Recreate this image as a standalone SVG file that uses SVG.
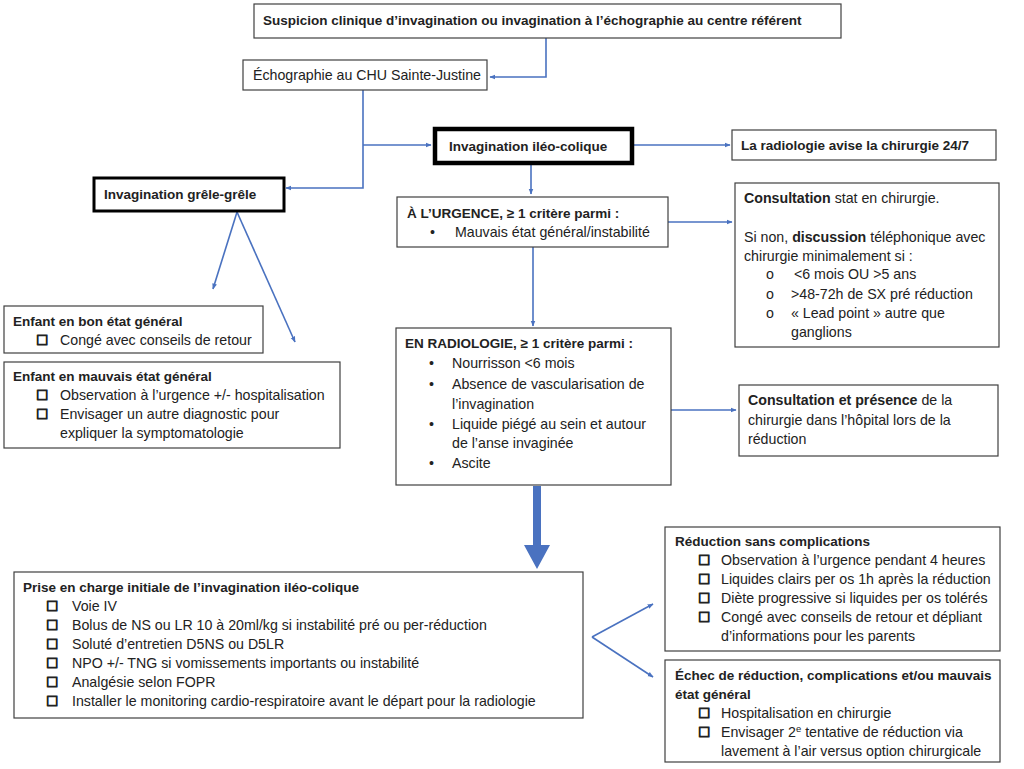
<svg xmlns="http://www.w3.org/2000/svg" width="1024" height="769" viewBox="0 0 1024 769">
<defs>
<style>
.bx{fill:#fff;stroke:#404040;stroke-width:1.2}
.bk{fill:#fff;stroke:#000;stroke-width:3}
.bk2{fill:#fff;stroke:#000;stroke-width:4.5}
text{font-family:"Liberation Sans",Arial,sans-serif;font-size:14.2px;fill:#222}
.b{font-weight:bold}
.t{font-weight:bold;font-size:13.5px}
.cb{font-family:"DejaVu Sans",sans-serif;font-size:14px;font-weight:bold;stroke:#222;stroke-width:0.9}
.ln{fill:none;stroke:#4a72c0;stroke-width:1.6}
</style>
<marker id="ah" viewBox="0 0 10 10" refX="9" refY="5" markerWidth="6" markerHeight="6" orient="auto" markerUnits="userSpaceOnUse">
<path d="M0,1 L10,5 L0,9 Z" fill="#4a72c0"/>
</marker>
</defs>
<rect width="1024" height="769" fill="#fff"/>

<g id="connectors">
<polyline class="ln" points="546,38 546,77 490,77" marker-end="url(#ah)"/>
<polyline class="ln" points="363,90 363,188 286,188" marker-end="url(#ah)"/>
<polyline class="ln" points="363,145 431,145" marker-end="url(#ah)"/>
<line class="ln" x1="632" y1="145" x2="730" y2="145" marker-end="url(#ah)"/>
<line class="ln" x1="531" y1="163" x2="531" y2="194" marker-end="url(#ah)"/>
<line class="ln" x1="237" y1="212" x2="213" y2="289" marker-end="url(#ah)"/>
<line class="ln" x1="237" y1="212" x2="295" y2="342" marker-end="url(#ah)"/>
<line class="ln" x1="668" y1="222" x2="732" y2="222" marker-end="url(#ah)"/>
<line class="ln" x1="533" y1="247" x2="533" y2="326" marker-end="url(#ah)"/>
<line class="ln" x1="671" y1="410" x2="736" y2="410" marker-end="url(#ah)"/>
<polygon points="533,486 541,486 541,545 550,545 537,569 524,545 533,545" fill="#4a72c0"/>
<line class="ln" x1="592" y1="637" x2="653" y2="604" marker-end="url(#ah)"/>
<line class="ln" x1="592" y1="637" x2="653" y2="677" marker-end="url(#ah)"/>
</g>

<g id="n-suspicion">
<rect class="bx" x="254" y="4" width="587" height="34"/>
<text class="t" x="263" y="25">Suspicion clinique d’invagination ou invagination à l’échographie au centre référent</text>
</g>

<g id="n-echo">
<rect class="bx" x="243" y="60" width="244" height="30"/>
<text x="253" y="80">Échographie au CHU Sainte-Justine</text>
</g>

<g id="n-ileo">
<rect class="bk2" x="435" y="129" width="197" height="34"/>
<text class="t" x="449" y="151">Invagination iléo-colique</text>
</g>

<g id="n-radio-avise">
<rect class="bx" x="732" y="130" width="264" height="30"/>
<text class="t" x="741" y="150">La radiologie avise la chirurgie 24/7</text>
</g>

<g id="n-grele">
<rect class="bk" x="94" y="178" width="190" height="33"/>
<text class="t" x="104" y="199">Invagination grêle-grêle</text>
</g>

<g id="n-bon">
<rect class="bx" x="4" y="306" width="259" height="47"/>
<text class="t" x="13" y="326">Enfant en bon état général</text>
<text class="cb" x="36" y="345">☐</text>
<text x="60" y="345">Congé avec conseils de retour</text>
</g>

<g id="n-mauvais">
<rect class="bx" x="4" y="362" width="336" height="86"/>
<text class="t" x="13" y="381">Enfant en mauvais état général</text>
<text class="cb" x="36" y="400">☐</text>
<text x="60" y="400">Observation à l’urgence +/- hospitalisation</text>
<text class="cb" x="36" y="419">☐</text>
<text x="60" y="419">Envisager un autre diagnostic pour</text>
<text x="60" y="438">expliquer la symptomatologie</text>
</g>

<g id="n-urgence">
<rect class="bx" x="397" y="197" width="271" height="50"/>
<text class="t" x="407" y="218">À L’URGENCE, ≥ 1 critère parmi :</text>
<text x="430" y="237">•</text>
<text x="455" y="237">Mauvais état général/instabilité</text>
</g>

<g id="n-consult">
<rect class="bx" x="735" y="183" width="264" height="164"/>
<text x="744" y="203"><tspan class="b">Consultation</tspan> stat en chirurgie.</text>
<text x="744" y="242">Si non, <tspan class="b">discussion</tspan> téléphonique avec</text>
<text x="744" y="261">chirurgie minimalement si :</text>
<text x="766" y="279">o</text>
<text x="794" y="279">&lt;6 mois OU &gt;5 ans</text>
<text x="766" y="299">o</text>
<text x="791" y="299">&gt;48-72h de SX pré réduction</text>
<text x="766" y="318">o</text>
<text x="791" y="318">« Lead point » autre que</text>
<text x="791" y="337">ganglions</text>
</g>

<g id="n-radiologie">
<rect class="bx" x="396" y="328" width="275" height="157"/>
<text class="t" x="405" y="348">EN RADIOLOGIE, ≥ 1 critère parmi :</text>
<text x="429" y="368">•</text>
<text x="452" y="368">Nourrisson &lt;6 mois</text>
<text x="429" y="389">•</text>
<text x="452" y="389">Absence de vascularisation de</text>
<text x="452" y="409">l’invagination</text>
<text x="429" y="429">•</text>
<text x="452" y="429">Liquide piégé au sein et autour</text>
<text x="452" y="448">de l’anse invaginée</text>
<text x="429" y="468">•</text>
<text x="452" y="468">Ascite</text>
</g>

<g id="n-presence">
<rect class="bx" x="739" y="385" width="259" height="71"/>
<text x="748" y="405"><tspan class="b">Consultation et présence</tspan> de la</text>
<text x="748" y="425">chirurgie dans l’hôpital lors de la</text>
<text x="748" y="444">réduction</text>
</g>

<g id="n-prise">
<rect class="bx" x="14" y="572" width="569" height="146"/>
<text class="t" x="23" y="592">Prise en charge initiale de l’invagination iléo-colique</text>
<text class="cb" x="46" y="611">☐</text><text x="72" y="611">Voie IV</text>
<text class="cb" x="46" y="630">☐</text><text x="72" y="630">Bolus de NS ou LR 10 à 20ml/kg si instabilité pré ou per-réduction</text>
<text class="cb" x="46" y="649">☐</text><text x="72" y="649">Soluté d’entretien D5NS ou D5LR</text>
<text class="cb" x="46" y="668">☐</text><text x="72" y="668">NPO +/- TNG si vomissements importants ou instabilité</text>
<text class="cb" x="46" y="687">☐</text><text x="72" y="687">Analgésie selon FOPR</text>
<text class="cb" x="46" y="706">☐</text><text x="72" y="706">Installer le monitoring cardio-respiratoire avant le départ pour la radiologie</text>
</g>

<g id="n-reduction">
<rect class="bx" x="665" y="527" width="335" height="124"/>
<text class="t" x="675" y="546">Réduction sans complications</text>
<text class="cb" x="698" y="565">☐</text><text x="721" y="565">Observation à l’urgence pendant 4 heures</text>
<text class="cb" x="698" y="584">☐</text><text x="721" y="584">Liquides clairs per os 1h après la réduction</text>
<text class="cb" x="698" y="603">☐</text><text x="721" y="603">Diète progressive si liquides per os tolérés</text>
<text class="cb" x="698" y="622">☐</text><text x="721" y="622">Congé avec conseils de retour et dépliant</text>
<text x="721" y="641">d’informations pour les parents</text>
</g>

<g id="n-echec">
<rect class="bx" x="665" y="660" width="335" height="102"/>
<text class="t" x="675" y="680">Échec de réduction, complications et/ou mauvais</text>
<text class="t" x="675" y="699">état général</text>
<text class="cb" x="698" y="718">☐</text><text x="721" y="718">Hospitalisation en chirurgie</text>
<text class="cb" x="698" y="737">☐</text><text x="721" y="737">Envisager 2<tspan font-size="9.5" dy="-5">e</tspan><tspan dy="5"> tentative de réduction via</tspan></text>
<text x="721" y="756">lavement à l’air versus option chirurgicale</text>
</g>
</svg>
